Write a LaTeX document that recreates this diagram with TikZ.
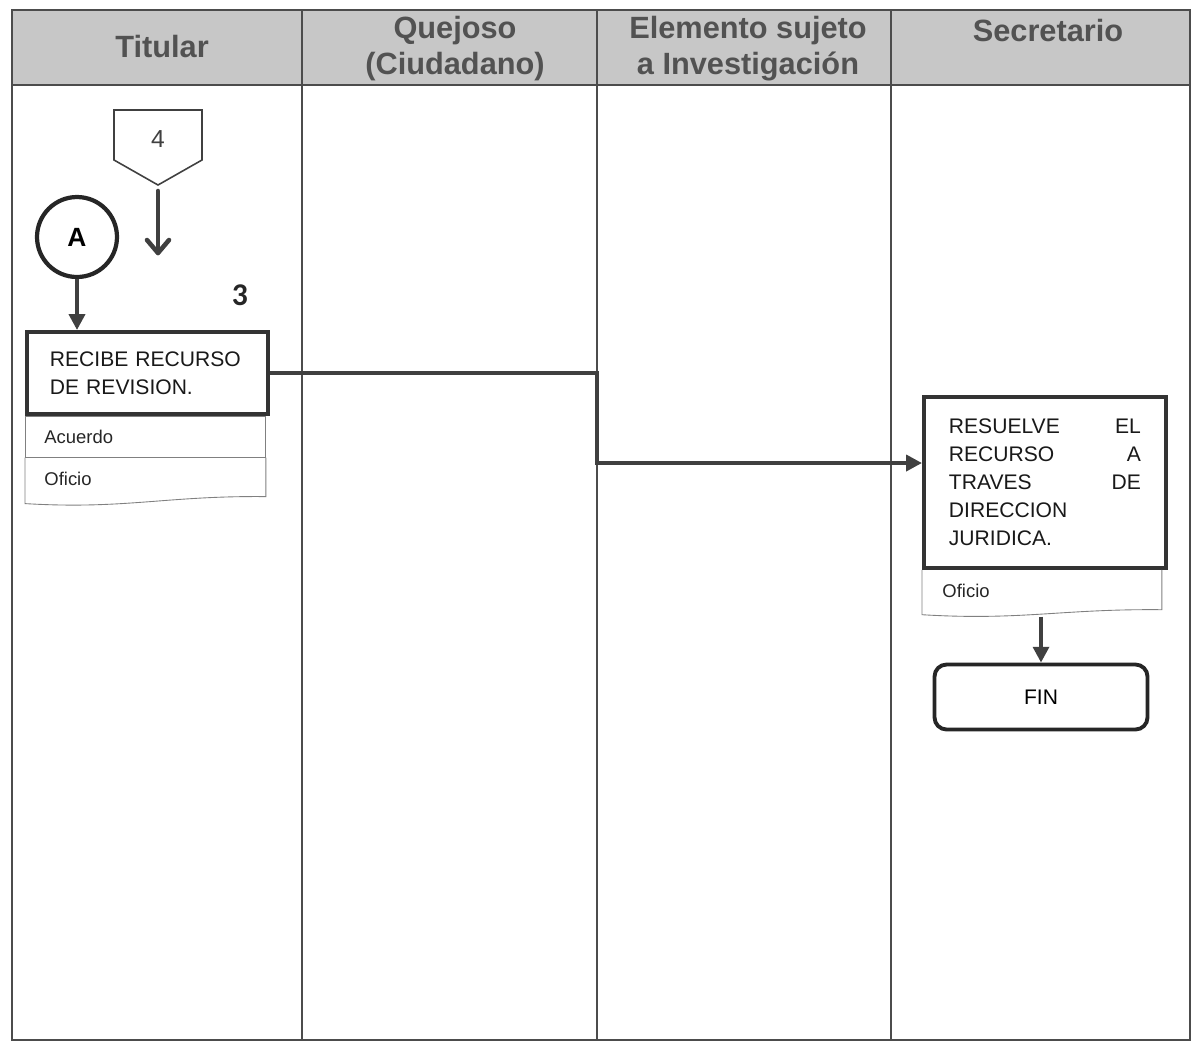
\documentclass[tikz,border=0pt]{standalone}
\usepackage{fontspec}
\setmainfont{Liberation Sans}
\newfontfamily\numfont{Carlito}
\usetikzlibrary{arrows.meta}

\begin{document}
\begin{tikzpicture}[x=0.02cm,y=-0.02cm,
    lane/.style={draw=black!70, line width=0.7pt},
    lanehead/.style={font=\fontsize{17.5}{20.5}\selectfont\bfseries, text=black!68, align=center},
    process/.style={draw=black!80, line width=2.2pt, fill=white, anchor=north west, inner xsep=0pt, inner ysep=0pt, align=left, font=\fontsize{12}{16}\selectfont, text=black!90},
    docrow/.style={draw=black!50, line width=0.5pt, minimum width=4.8cm, minimum height=0.82cm, anchor=north west, inner xsep=0.38cm, text width=4.04cm, align=left, font=\fontsize{10.5}{12}\selectfont, text=black!85},
    docedge/.style={draw=black!50, line width=0.5pt},
    flow/.style={draw=black!75, line width=2.2pt, -{Triangle[length=9pt,width=9pt]}},
    flowv/.style={draw=black!75, line width=2.6pt, line cap=round, line join=round},
]
\useasboundingbox (0,0) rectangle (1192,1042);

% lanes and header
\fill[black!22] (12,10) rectangle (1190,85);
\draw[lane] (12,10) rectangle (1190,1040);
\draw[lane] (12,85) -- (1190,85);
\draw[lane] (302,10) -- (302,1040);
\draw[lane] (597,10) -- (597,1040);
\draw[lane] (891,10) -- (891,1040);
\node[lanehead] (hTit) at (162,47) {Titular};
\node[lanehead] (hQue) at (455,49) {Quejoso\\(Ciudadano)};
\node[lanehead] (hEle) at (748,49) {Elemento sujeto\\a Investigación};
\node[lanehead] (hSec) at (1048,31) {Secretario};

% Titular
\node[font=\fontsize{14}{16}\selectfont, text=black!75] (p4) at (158,139) {4};
\coordinate (p4tip) at (158,185);
\draw[black!75, line width=0.9pt] (114,110) -- (202,110) -- (202,160) -- (p4tip) -- (114,160) -- cycle;
\coordinate (p4end) at (158,253);
\draw[flowv] ([yshift=-0.12cm]p4tip) -- (p4end);
\draw[flowv] ([xshift=-0.22cm,yshift=0.26cm]p4end) -- (p4end) -- ([xshift=0.22cm,yshift=0.26cm]p4end);

\node[circle, draw=black!85, line width=2.4pt, minimum size=1.6cm, font=\fontsize{15}{17}\selectfont\bfseries] (A) at (77,237) {A};
\node[font=\numfont\bfseries\fontsize{18}{20}\selectfont, text=black!85] (n3) at (240,295) {3};

\node[process, minimum width=4.8cm, minimum height=1.64cm, text width=3.9cm, inner xsep=0.46cm] (rec) at (25,330) {RECIBE RECURSO\\DE REVISION.};
\draw[flow] (A.south) -- (A.south |- rec.north);

\node[docrow] (acu) at (rec.south west) {Acuerdo};
\node[docrow, draw=none] (of1) at (acu.south west) {Oficio};
\draw[docedge] (of1.north west) -- ([yshift=-0.08cm]of1.south west) .. controls +(2cm,-0.12cm) and +(-2cm,0.02cm) .. ([yshift=0.06cm]of1.south east) -- (of1.north east);

% Secretario
\node[process, minimum width=4.82cm, minimum height=3.42cm, text width=3.84cm, inner xsep=0.5cm] (res) at (922,395) {RESUELVE\hfill EL\\RECURSO\hfill A\\TRAVES\hfill DE\\DIRECCION\\JURIDICA.};
\coordinate (bend) at (597,463);
\draw[flow] (rec.east) -- (rec.east -| bend) -- (bend) -- (bend -| res.west);

\node[docrow, draw=none, minimum width=4.78cm, inner xsep=0.4cm, text width=3.98cm] (of2) at (res.south west) {Oficio};
\draw[docedge] (of2.north west) -- ([yshift=-0.06cm]of2.south west) .. controls +(2cm,-0.12cm) and +(-2cm,0.02cm) .. ([yshift=0.04cm]of2.south east) -- (of2.north east);

\node[draw=black!85, line width=2.2pt, rounded corners=0.24cm, minimum width=4.26cm, minimum height=1.3cm, font=\fontsize{12}{14}\selectfont] (fin) at (1041,697) {FIN};
\draw[flow] ([yshift=-0.1cm]of2.south -| fin.north) -- (fin.north);
\end{tikzpicture}
\end{document}
